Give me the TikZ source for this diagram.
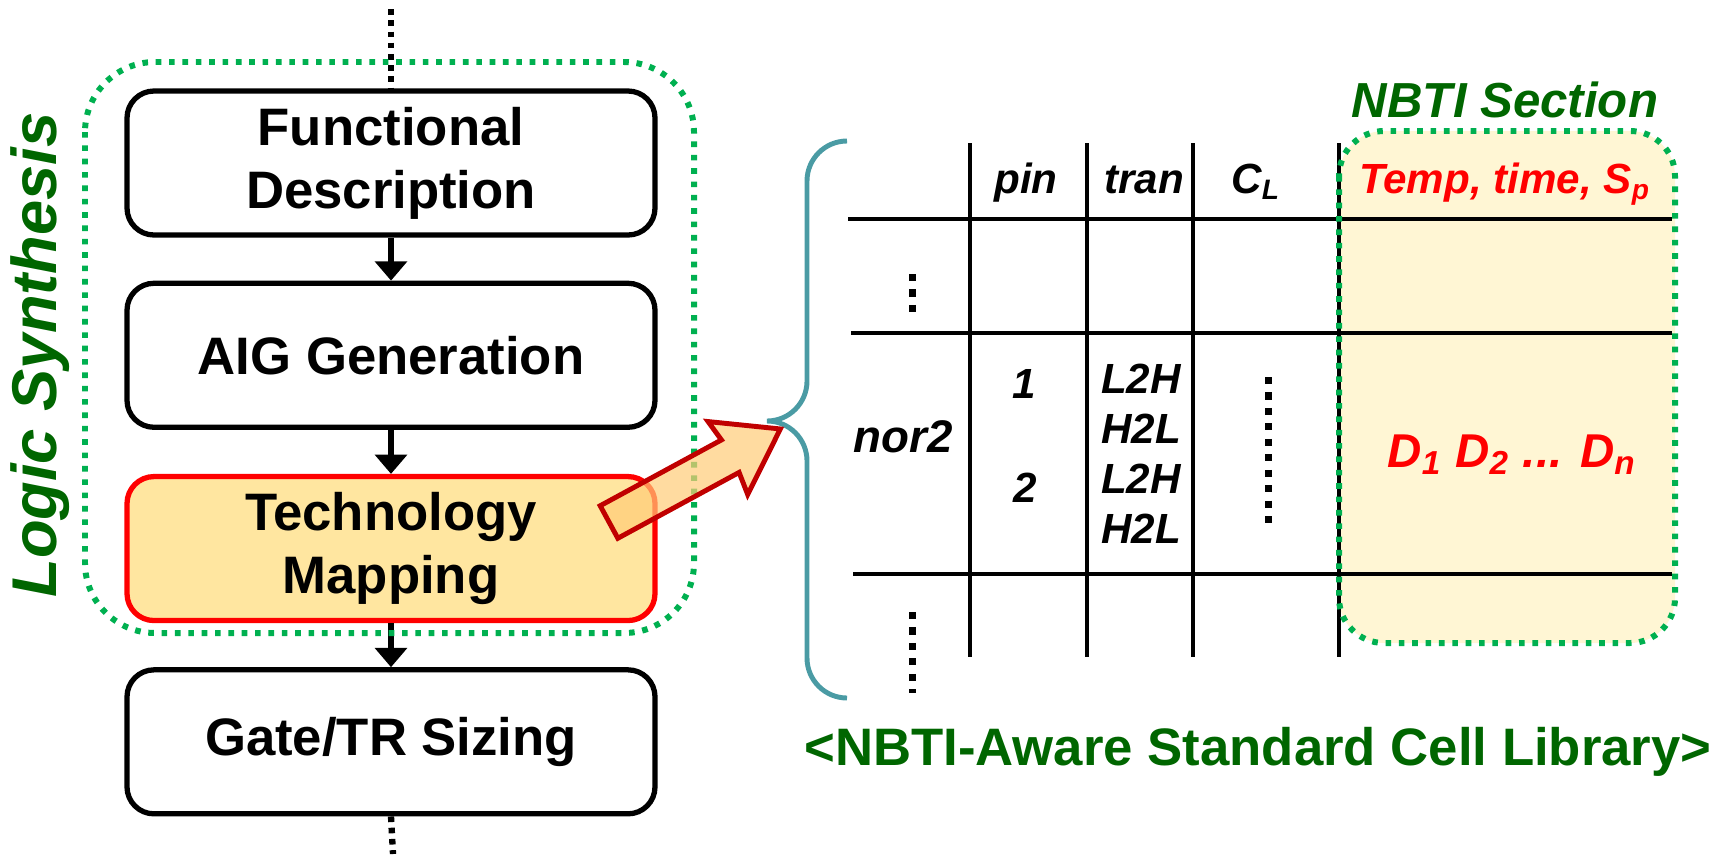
\documentclass[tikz,border=0pt]{standalone}
\usepackage{fontspec}
\setmainfont{Liberation Sans}
\usetikzlibrary{positioning,arrows.meta}

\definecolor{lsgreen}{RGB}{0,176,80}
\definecolor{dkgreen}{RGB}{0,102,0}
\definecolor{bracecol}{RGB}{74,155,164}
\definecolor{mapfill}{RGB}{255,230,160}
\definecolor{nbtifill}{RGB}{255,246,212}
\definecolor{arrowred}{RGB}{192,0,0}

\tikzset{
  flowbox/.style={draw, line width=1.5pt, rounded corners=0.27cm,
    minimum width=5.28cm, minimum height=1.44cm, align=center,
    font=\fontsize{15}{18}\selectfont\bfseries},
  mapbox/.style={flowbox, draw=red, fill=mapfill},
  flowarrow/.style={line width=1.5pt, -{Triangle[width=9pt,length=5.5pt]}},
  greendots/.style={lsgreen, line width=1.7pt, dash pattern=on 1.6pt off 2.2pt},
  blackdots/.style={line width=1.8pt, dash pattern=on 1.6pt off 1.6pt},
  celldots/.style={line width=2pt, dash pattern=on 2pt off 2.4pt},
  grid/.style={line width=1.1pt},
  cell/.style={font=\fontsize{12}{14}\selectfont\bfseries\itshape, inner sep=0pt},
  pointer/.style={draw=arrowred, line width=1.4pt, fill=mapfill!75!orange, fill opacity=0.7},
}

\begin{document}
\begin{tikzpicture}
    \useasboundingbox (0,0) rectangle (17.27,-8.54);

    % flow on the left
    \node[flowbox] (func) at (3.91,-1.63) {Functional\\Description};
    \node[flowbox, below=0.43cm of func] (aig) {AIG Generation};
    \node[mapbox, below=0.44cm of aig] (techmap) {Technology\\Mapping};
    \node[flowbox, below=0.44cm of techmap] (sizing) {Gate/TR Sizing};

    \coordinate (flowtop) at (3.91,-0.09);
    \coordinate (flowend) at (3.93,-8.54);
    \draw[blackdots] (flowtop) -- (func.north);
    \draw[blackdots] (sizing.south) -- (flowend);

    \draw[flowarrow] (func) -- (aig);
    \draw[flowarrow] (aig) -- (techmap);
    \draw[flowarrow] (techmap) -- (sizing);

    % logic synthesis frame
    \draw[greendots, rounded corners=0.7cm] (0.85,-0.62) rectangle (6.94,-6.33);
    \node[rotate=90, text=dkgreen, font=\fontsize{18}{20}\selectfont\bfseries\itshape]
        (synth) at (0.40,-3.55) {Logic Synthesis};

    % NBTI section background
    \fill[nbtifill, rounded corners=0.45cm] (13.39,-1.31) rectangle (16.75,-6.43);

    % library table
    \foreach \x in {9.70,10.87,11.93,13.39}
        \draw[grid] (\x,-1.43) -- (\x,-6.57);
    \draw[grid] (8.48,-2.19) -- (16.72,-2.19);
    \draw[grid] (8.51,-3.33) -- (16.72,-3.33);
    \draw[grid] (8.53,-5.74) -- (16.72,-5.74);

    \draw[greendots, rounded corners=0.45cm] (13.39,-1.31) rectangle (16.75,-6.43);

    \node[cell, anchor=base] (pin) at (10.26,-1.93) {pin};
    \node[cell, anchor=base] (tran) at (11.44,-1.93) {tran};
    \node[cell, anchor=base] (cl) at (12.56,-1.93) {C\textsubscript{L}};
    \node[cell, anchor=base, text=red] (temp) at (15.05,-1.93) {Temp, time, S\textsubscript{p}};
    \node[anchor=base, text=dkgreen, font=\fontsize{14}{16}\selectfont\bfseries\itshape]
        (nbti) at (15.05,-1.17) {NBTI Section};

    \node[cell, anchor=base, font=\fontsize{13}{15}\selectfont\bfseries\itshape] (gate) at (9.03,-4.52) {nor2};
    \node[cell, anchor=base] (pin1) at (10.24,-3.98) {1};
    \node[cell, anchor=base] (pin2) at (10.25,-5.02) {2};
    \foreach \t [count=\i] in {L2H,H2L,L2H,H2L}
        \node[cell, anchor=base] (tran\i) at (11.41,{-3.93-0.5*(\i-1)}) {\t};
    \node[cell, anchor=base, text=red, font=\fontsize{13.5}{15}\selectfont\bfseries\itshape]
        (delays) at (15.12,-4.67) {D\textsubscript{1} D\textsubscript{2} ... D\textsubscript{n}};

    \draw[celldots] (9.12,-2.74) -- (9.12,-3.16);
    \draw[celldots] (12.68,-3.77) -- (12.68,-5.30);
    \draw[celldots] (9.12,-6.12) -- (9.12,-6.93);

    % brace and caption
    \draw[bracecol, line width=1.4pt] (8.47,-1.41) arc[start angle=90, end angle=180, radius=0.4]
        -- (8.07,-3.81) arc[start angle=0, end angle=-90, radius=0.4]
        arc[start angle=90, end angle=0, radius=0.4]
        -- (8.07,-6.58) arc[start angle=180, end angle=270, radius=0.4];
    \node[anchor=base, text=dkgreen, font=\fontsize{15}{17}\selectfont\bfseries]
        (caption) at (12.58,-7.65) {<NBTI-Aware Standard Cell Library>};

    % block arrow from the mapping step to the library
    \begin{scope}[shift={(6.09,-5.22)}, rotate=28.5]
        \draw[pointer] (0,-0.185) -- (1.38,-0.185) -- (1.35,-0.42) -- (1.95,0)
            -- (1.35,0.41) -- (1.38,0.185) -- (0,0.185) -- cycle;
    \end{scope}
\end{tikzpicture}
\end{document}
